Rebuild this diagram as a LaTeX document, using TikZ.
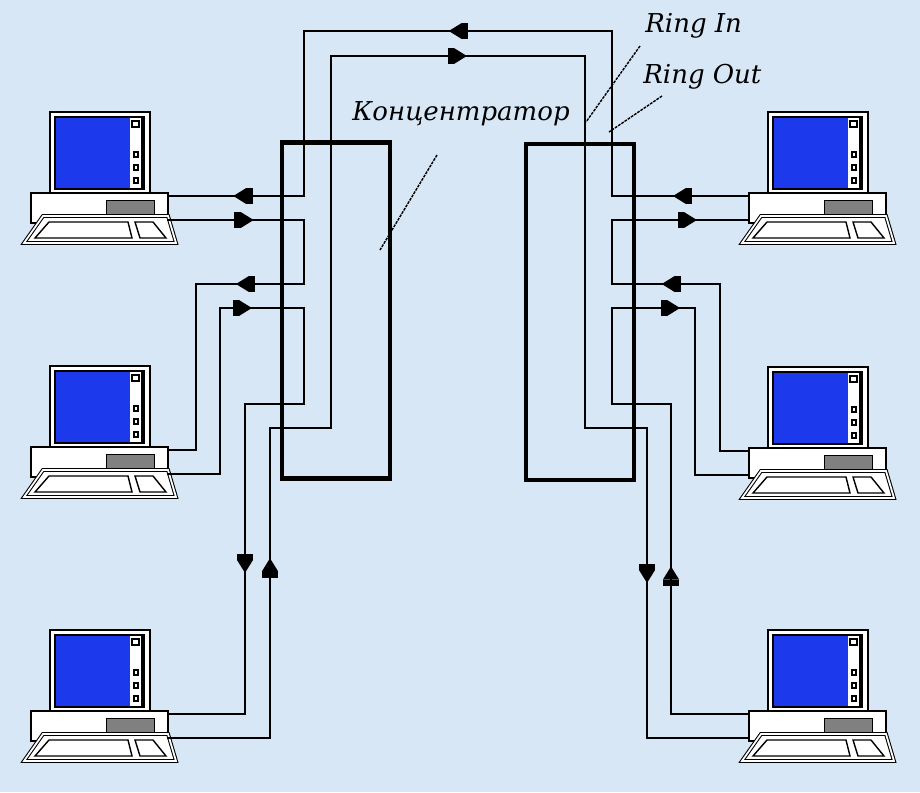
\documentclass[tikz,border=0pt]{standalone}
\usepackage{fontspec}
\usepackage{tikz}
\usetikzlibrary{arrows.meta,decorations.markings}
\newfontfamily\labelfont{DejaVu Serif}
\definecolor{paper}{RGB}{216,231,246}
\definecolor{screenblue}{RGB}{28,58,236}
\definecolor{drivegray}{RGB}{128,128,128}

\tikzset{
	plug/.tip={Rectangle[length=3.5pt,width=9pt,sep=0pt] Triangle[length=7.5pt,width=9pt]},
	pics/computer/.style={code={
		\draw[fill=white,line width=1pt] (19,-81) rectangle (119,0);
		\draw[fill=white,line width=1.3pt] (24,-76) rectangle (113,-4);
		\fill[screenblue] (25,-75) rectangle (99,-5);
		\fill (110,-75) rectangle (113,-5);
		\draw[line width=0.7pt] (101,-72) rectangle (108,-66);
		\foreach \k in {-41,-28,-15}
			\draw[line width=0.7pt] (103,\k) rectangle (107,{\k+5});
		\draw[fill=white,line width=1pt] (0,0) rectangle (137,30);
		\draw[fill=drivegray,line width=0.5pt] (75,7) rectangle (123,22);
		\draw[fill=white,line width=0.6pt,double,double distance=1pt] (12,23) -- (137,23) -- (145,50) -- (-7,50) -- cycle;
		\draw[line width=0.8pt] (18,29) -- (97,29) -- (101,45) -- (4,45) -- cycle;
		\draw[line width=0.8pt] (104,29) -- (122,29) -- (135,45) -- (109,45) -- cycle;
		\coordinate (-e1) at (137,3);
		\coordinate (-e2) at (137,27);
		\coordinate (-w1) at (0,3);
		\coordinate (-w2) at (0,27);
	}}
}

\begin{document}
\begin{tikzpicture}[x=0.02cm,y=-0.02cm,
		wire/.style={line width=1pt,line cap=rect},
		flow/.style={postaction={decorate,decoration={markings,mark=at position #1 with {\arrow{plug}}}}},
		flow/.default=0.5,
		hub/.style={draw,line width=2.8pt,inner sep=0pt,minimum width=2.16cm,minimum height=6.72cm},
		lbl/.style={font=\labelfont\itshape\fontsize{14.8}{18}\selectfont,inner sep=0pt,anchor=base west},
		leader/.style={line width=0.8pt,dash pattern=on 1.6pt off 0.6pt}]
	\fill[paper] (0,0) rectangle (920,792);

	\pic (L1) at (31,193) {computer};
	\pic (L2) at (31,447) {computer};
	\pic (L3) at (31,711) {computer};
	\pic (R1) at (749,193) {computer};
	\pic (R2) at (749,448) {computer};
	\pic (R3) at (749,711) {computer};

	\coordinate (outL) at (304,31);
	\coordinate (outR) at (612,31);
	\coordinate (inL) at (331,56);
	\coordinate (inR) at (585,56);

	% ring lines across the top
	\draw[wire,flow=.53] (outR) -- (outL);
	\draw[wire,flow=.535] (inL) -- (inR);

	% left concentrator
	\draw[wire] (outL) -- (outL |- L1-e1);
	\draw[wire,flow=.52] (outL |- L1-e1) -- (L1-e1);
	\draw[wire,flow=.63] (L1-e2) -- (L1-e2 -| outL);
	\draw[wire] (L1-e2 -| outL) -- (304,284);
	\draw[wire,flow=.63] (304,284) -- (196,284);
	\draw[wire] (196,284) |- (L2-e1);
	\draw[wire] (L2-e2) -| (220,308);
	\draw[wire,flow=.38] (220,308) -- (304,308);
	\draw[wire] (304,308) |- (245,404);
	\draw[wire,flow=.545] (245,404) -- (245,714);
	\draw[wire] (245,714) -- (L3-e1);
	\draw[wire] (L3-e2) -- (270,738);
	\draw[wire,flow=.58] (270,738) -- (270,428);
	\draw[wire] (270,428) -| (inL);

	% right concentrator
	\draw[wire] (inR) |- (647,428);
	\draw[wire,flow=.5] (647,428) -- (647,738);
	\draw[wire] (647,738) -- (R3-w2);
	\draw[wire] (R3-w1) -- (671,714);
	\draw[wire,flow=.476] (671,714) -- (671,404);
	\draw[wire] (671,404) -| (612,308);
	\draw[wire,flow=.82] (612,308) -- (695,308);
	\draw[wire] (695,308) |- (R2-w2);
	\draw[wire] (R2-w1) -| (720,284);
	\draw[wire,flow=.54] (720,284) -- (612,284);
	\draw[wire] (612,284) -- (612,220);
	\draw[wire,flow=.62] (612,220) -- (R1-w2);
	\draw[wire,flow=.555] (R1-w1) -- (612,196);
	\draw[wire] (612,196) -- (outR);

	\node[hub] (hubL) at (336,310.5) {};
	\node[hub] (hubR) at (580,312) {};

	\node[lbl] (conc) at (352,120) {Концентратор};
	\node[lbl] (ringin) at (645,32) {Ring In};
	\node[lbl] (ringout) at (643,83) {Ring Out};
	\draw[leader] (437,155) -- (380,250);
	\draw[leader] (640,46) -- (586,122);
	\draw[leader] (662,96) -- (609,132);
\end{tikzpicture}
\end{document}
